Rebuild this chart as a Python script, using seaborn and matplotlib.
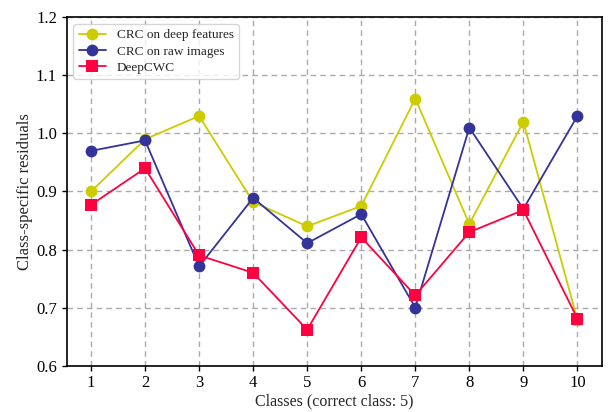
import matplotlib
matplotlib.use("Agg")
import matplotlib.pyplot as plt
import seaborn as sns
import pandas as pd

classes = [1, 2, 3, 4, 5, 6, 7, 8, 9, 10]
deep_features = [0.90, 0.99, 1.03, 0.882, 0.84, 0.875, 1.06, 0.844, 1.02, 0.679]
raw_images = [0.97, 0.988, 0.771, 0.889, 0.811, 0.861, 0.70, 1.01, 0.87, 1.03]
deepcwc = [0.877, 0.94, 0.79, 0.76, 0.662, 0.821, 0.721, 0.83, 0.868, 0.681]
series_names = ["CRC on deep features", "CRC on raw images", "DeepCWC"]

df = pd.DataFrame({
    "Class": classes * 3,
    "Residual": deep_features + raw_images + deepcwc,
    "Method": [series_names[0]] * 10 + [series_names[1]] * 10 + [series_names[2]] * 10,
})

sns.set_style("ticks")
plt.rcParams['font.family'] = ['Liberation Serif', 'DejaVu Serif']

fig = plt.figure(figsize=(6.08, 4.12), dpi=100)
ax = fig.add_axes([0.1097, 0.1124, 0.88, 0.8456])

palette = {series_names[0]: "#CCCC00", series_names[1]: "#333399", series_names[2]: "#FF0040"}
markers = {series_names[0]: "o", series_names[1]: "o", series_names[2]: "s"}

sns.lineplot(data=df, x="Class", y="Residual", hue="Method", style="Method",
             palette=palette, markers=markers, dashes=False, markersize=8.5,
             linewidth=1.3, markeredgewidth=0, ax=ax, zorder=3)

ax.set_ylim(0.6, 1.2)
ax.set_xticks(classes)
ax.set_yticks([0.6, 0.7, 0.8, 0.9, 1.0, 1.1, 1.2])
ax.set_yticklabels(["0.6", "0.7", "0.8", "0.9", "1.0", "1.1", "1.2"])
ax.grid(True, linestyle=(0, (4, 3)), color="#aaaaaa", linewidth=1)
ax.set_axisbelow(True)
for s in ax.spines.values():
    s.set_linewidth(1.2)
    s.set_color("black")
ax.tick_params(labelsize=12, direction="out", length=3.5, width=1, colors="black")
ax.set_xlabel("Classes (correct class: 5)", fontsize=11.5, labelpad=1.5)
ax.set_ylabel("Class-specific residuals", fontsize=12, labelpad=2)

leg = ax.legend(loc="upper left", fontsize=9.5, frameon=True, handlelength=2.1,
                borderpad=0.4, labelspacing=0.3)
leg.set_title(None)

fig.savefig("out.png", dpi=100)
